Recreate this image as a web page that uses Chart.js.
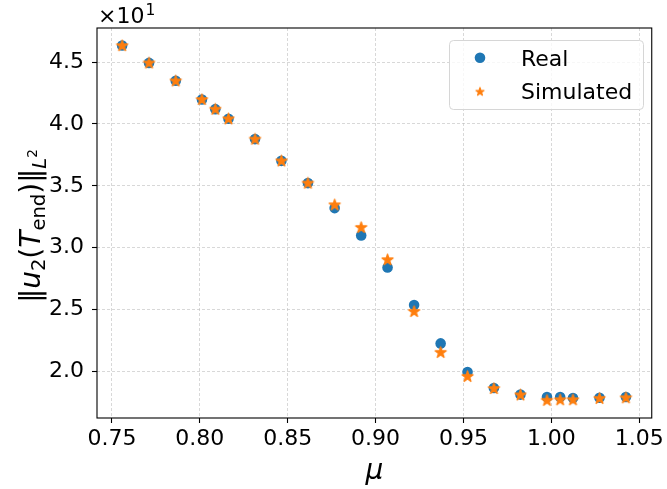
<!DOCTYPE html>
<html><head><meta charset="utf-8">
<script src="https://cdn.jsdelivr.net/npm/chart.js@4.4.0/dist/chart.umd.min.js"></script>
<style>html,body{margin:0;padding:0;background:#fff;}#wrap{width:667px;height:489px;position:relative;}</style>
</head><body><div id="wrap"><canvas id="c" width="667" height="489"></canvas></div>
<script>
// ---- data ----
const mu = [0.7558, 0.7711, 0.7863, 0.8012, 0.8088, 0.8163, 0.8314, 0.8464, 0.8615, 0.8767, 0.8918, 0.9068, 0.9219, 0.9370, 0.9523, 0.9673, 0.9824, 0.9975, 1.0050, 1.0123, 1.0274, 1.0424];
const realValues = [46.34, 44.94, 43.49, 41.98, 41.20, 40.42, 38.78, 37.02, 35.22, 33.20, 30.99, 28.40, 25.37, 22.26, 19.95, 18.66, 18.12, 17.93, 17.93, 17.85, 17.87, 17.93];
const simValues  = [46.34, 44.94, 43.49, 41.98, 41.20, 40.42, 38.78, 37.02, 35.22, 33.47, 31.64, 29.03, 24.85, 21.54, 19.60, 18.62, 18.10, 17.66, 17.71, 17.71, 17.82, 17.87];
const seriesNames = ['Real', 'Simulated'];
const xTickValues = [0.75, 0.80, 0.85, 0.90, 0.95, 1.00, 1.05];
const yTickValues = [20, 25, 30, 35, 40, 45];
const yScaleExponent = 1;
const xAxisLabel = 'μ';

// ---- styling ----
const BLUE = '#1f77b4', ORANGE = '#ff7f0e';
const FONT = 'DejaVu Sans';
const AREA = {left: 97, right: 656, top: 28, bottom: 418};

function makeStar(R, color, lw) {
  const c = document.createElement('canvas');
  const s = Math.ceil(2 * R + 2 + lw);
  c.width = s; c.height = s;
  const g = c.getContext('2d');
  g.translate(s / 2, s / 2 + 0.3);
  g.beginPath();
  for (let i = 0; i < 10; i++) {
    const r = i % 2 === 0 ? R : R * 0.382;
    const a = -Math.PI / 2 + i * Math.PI / 5;
    const px = r * Math.cos(a), py = r * Math.sin(a);
    if (i === 0) g.moveTo(px, py); else g.lineTo(px, py);
  }
  g.closePath();
  g.fillStyle = color; g.fill();
  g.lineJoin = 'round';
  g.strokeStyle = color; g.lineWidth = lw; g.stroke();
  return c;
}
const starBig = makeStar(5.8, ORANGE, 1.3);
const starSmall = makeStar(4.3, ORANGE, 1.1);

const decorPlugin = {
  id: 'decor',
  afterDraw(chart) {
    const ctx = chart.ctx;
    const ca = chart.chartArea;
    ctx.save();
    // frame
    ctx.strokeStyle = '#000'; ctx.lineWidth = 1.1;
    ctx.strokeRect(ca.left, ca.top, ca.right - ca.left, ca.bottom - ca.top);
    // offset text ×10^1
    ctx.fillStyle = '#000';
    ctx.textBaseline = 'alphabetic'; ctx.textAlign = 'left';
    ctx.font = '22px "' + FONT + '"';
    const base = '×10';
    ctx.fillText(base, 98, 22.5);
    const w = ctx.measureText(base).width;
    ctx.font = '15.5px "' + FONT + '"';
    ctx.fillText(String(yScaleExponent), 98 + w + 1, 14.5);
    // x label
    ctx.font = 'italic 28px "' + FONT + '"';
    ctx.textAlign = 'center';
    ctx.fillText(xAxisLabel, (ca.left + ca.right) / 2, 478.5);
    // y label (rich text, rotated)
    const parts = [
      {t: '‖', f: '28px'},
      {t: 'u', f: 'italic 28px'},
      {t: '2', f: '19.6px', dy: 5},
      {t: '(', f: '28px'},
      {t: 'T', f: 'italic 28px'},
      {t: 'end', f: '19.6px', dy: 5},
      {t: ')', f: '28px'},
      {t: '‖', f: '28px'},
      {t: 'L', f: 'italic 19.6px', dy: 6},
      {t: '2', f: '13.7px', dy: -3}
    ];
    ctx.textAlign = 'left';
    let total = 0;
    parts.forEach(p => { ctx.font = p.f + ' "' + FONT + '"'; p.w = ctx.measureText(p.t).width; total += p.w; });
    ctx.translate(40, 226);
    ctx.rotate(-Math.PI / 2);
    let cx = -total / 2;
    parts.forEach(p => { ctx.font = p.f + ' "' + FONT + '"'; ctx.fillText(p.t, cx, p.dy || 0); cx += p.w; });
    ctx.setTransform(1, 0, 0, 1, 0, 0);
    // legend
    const lx = 449.5, ly = 40.5, lw = 194, lh = 69, r = 4;
    ctx.beginPath();
    ctx.moveTo(lx + r, ly);
    ctx.arcTo(lx + lw, ly, lx + lw, ly + lh, r);
    ctx.arcTo(lx + lw, ly + lh, lx, ly + lh, r);
    ctx.arcTo(lx, ly + lh, lx, ly, r);
    ctx.arcTo(lx, ly, lx + lw, ly, r);
    ctx.closePath();
    ctx.fillStyle = 'rgba(255,255,255,0.8)'; ctx.fill();
    ctx.strokeStyle = '#d6d6d6'; ctx.lineWidth = 1; ctx.stroke();
    ctx.fillStyle = BLUE;
    ctx.beginPath(); ctx.arc(480, 57.7, 5.3, 0, Math.PI * 2); ctx.fill();
    ctx.drawImage(starSmall, 480 - starSmall.width / 2, 91.5 - starSmall.height / 2);
    ctx.fillStyle = '#000';
    ctx.font = '22px "' + FONT + '"';
    ctx.textAlign = 'left'; ctx.textBaseline = 'alphabetic';
    ctx.fillText(chart.data.datasets[0].label, 521, 66);
    ctx.fillText(chart.data.datasets[1].label, 521, 98.5);
    ctx.restore();
  }
};

const gridCommon = {
  color: 'rgba(190,190,190,0.75)',
  lineWidth: 0.8,
  tickColor: '#000',
  tickWidth: 1.1,
  tickLength: 5,
  drawTicks: true
};

new Chart(document.getElementById('c'), {
  type: 'scatter',
  data: {
    datasets: [
      {label: seriesNames[0], data: mu.map((x, i) => ({x, y: realValues[i]})),
       pointStyle: 'circle', pointRadius: 5.3, pointHoverRadius: 5.3,
       backgroundColor: BLUE, borderColor: BLUE, borderWidth: 0, order: 2},
      {label: seriesNames[1], data: mu.map((x, i) => ({x, y: simValues[i]})),
       pointStyle: starBig, pointRadius: 6, pointHoverRadius: 6,
       backgroundColor: ORANGE, borderColor: ORANGE, borderWidth: 0, order: 1}
    ]
  },
  options: {
    responsive: false,
    animation: false,
    devicePixelRatio: 1,
    layout: {padding: {left: 0, top: AREA.top, right: 667 - AREA.right, bottom: 0}},
    plugins: {legend: {display: false}, tooltip: {enabled: false}},
    scales: {
      x: {
        type: 'linear', min: 0.7415, max: 1.0571,
        afterBuildTicks: s => { s.ticks = xTickValues.map(v => ({value: v})); },
        afterFit: s => { s.height = 489 - AREA.bottom; },
        grid: gridCommon,
        border: {display: false, dash: [3, 2]},
        ticks: {color: '#000', padding: 3, maxRotation: 0, autoSkip: false,
                font: {family: FONT, size: 22},
                callback: v => Number(v).toFixed(2)}
      },
      y: {
        type: 'linear', min: 16.23, max: 47.76,
        afterBuildTicks: s => { s.ticks = yTickValues.map(v => ({value: v})); },
        afterFit: s => { s.width = AREA.left; },
        grid: gridCommon,
        border: {display: false, dash: [3, 2]},
        ticks: {color: '#000', padding: 8, autoSkip: false,
                font: {family: FONT, size: 22},
                callback: v => (v / Math.pow(10, yScaleExponent)).toFixed(1)}
      }
    }
  },
  plugins: [decorPlugin]
});
</script>
</body></html>
